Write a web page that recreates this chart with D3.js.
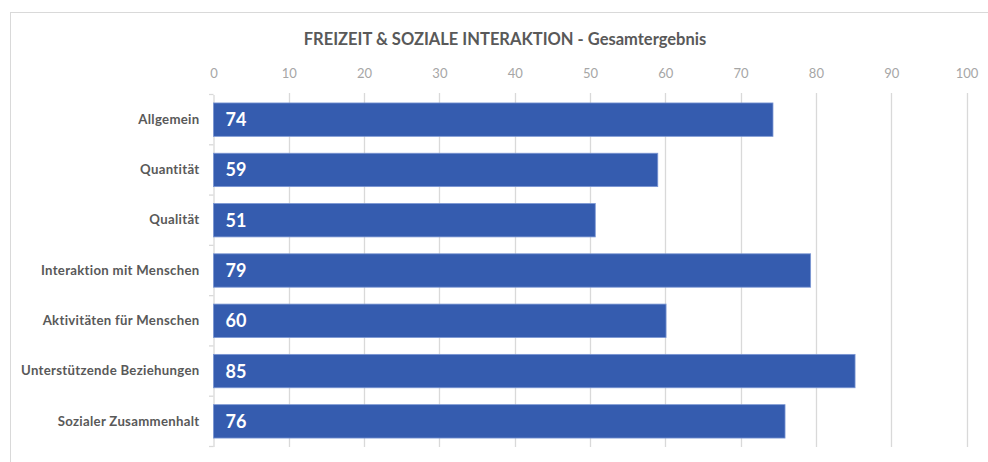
<!DOCTYPE html>
<html>
<head>
<meta charset="utf-8">
<script src="https://cdn.jsdelivr.net/npm/d3@7"></script>
<style>
  body { margin: 0; background: #fff; }
  svg { display: block; font-family: Lato, "Open Sans", sans-serif; }
</style>
</head>
<body>
<script>
// Chart data
var categories = ["Allgemein", "Quantität", "Qualität", "Interaktion mit Menschen",
  "Aktivitäten für Menschen", "Unterstützende Beziehungen", "Sozialer Zusammenhalt"];
var values = [74.3, 59.0, 50.7, 79.3, 60.1, 85.2, 75.9];
var xTicks = [0, 10, 20, 30, 40, 50, 60, 70, 80, 90, 100];
var title = "FREIZEIT & SOZIALE INTERAKTION - Gesamtergebnis";

var svgWidth = 988;
var svgHeight = 462;

var svg = d3.select("body")
  .append("svg")
  .attr("width", svgWidth)
  .attr("height", svgHeight);

// outer frame (runs off the right and bottom edge)
svg.append("rect")
  .attr("x", 10.5)
  .attr("y", 12.5)
  .attr("width", 1000)
  .attr("height", 500)
  .attr("fill", "none")
  .attr("stroke", "#d9d9d9");

var xScale = d3.scaleLinear()
  .domain([0, 100])
  .range([213.5, 966.5]);

var yScale = d3.scaleBand()
  .domain(categories)
  .range([94.5, 446.5])
  .paddingInner(0.336)
  .paddingOuter(0.168);

// title
svg.append("text")
  .attr("x", 505)
  .attr("y", 45)
  .attr("text-anchor", "middle")
  .attr("font-size", "16.5px")
  .attr("font-weight", "bold")
  .attr("fill", "#595959")
  .text(title);

// vertical gridlines
svg.append("g")
  .selectAll("line")
  .data(xTicks.slice(1))
  .enter()
  .append("line")
  .attr("x1", d => Math.round(xScale(d)) + 0.5)
  .attr("x2", d => Math.round(xScale(d)) + 0.5)
  .attr("y1", 93)
  .attr("y2", 447)
  .attr("stroke", "#d9d9d9")
  .attr("stroke-width", 1.3);

// top tick labels
var topAxis = d3.axisTop(xScale)
  .tickValues(xTicks)
  .tickSize(0)
  .tickPadding(0);

var topG = svg.append("g")
  .attr("transform", "translate(0, 78)")
  .call(topAxis);
topG.select(".domain").remove();
topG.selectAll("text")
  .attr("font-family", "Lato, 'Open Sans', sans-serif")
  .attr("font-size", "13px")
  .attr("fill", "#a6a6a6");

// left category axis
var leftAxis = d3.axisLeft(yScale)
  .tickSize(0)
  .tickPadding(14);

var leftG = svg.append("g")
  .attr("transform", "translate(" + 213.5 + ", 0)")
  .call(leftAxis);
leftG.select(".domain")
  .attr("stroke", "#d9d9d9")
  .attr("stroke-width", 1.3);
leftG.selectAll("text")
  .attr("font-family", "Lato, 'Open Sans', sans-serif")
  .attr("font-size", "13.2px")
  .attr("letter-spacing", "0.3px")
  .attr("font-weight", "bold")
  .attr("fill", "#595959");

// small tick marks between categories
var step = yScale.step();
var boundaries = categories.map((c, i) => yScale(categories[0]) - step * yScale.paddingOuter() + i * step)
  .concat([446.5]);
svg.append("g")
  .selectAll("line")
  .data(boundaries)
  .enter()
  .append("line")
  .attr("x1", 209)
  .attr("x2", 213.5)
  .attr("y1", d => d)
  .attr("y2", d => d)
  .attr("stroke", "#d9d9d9")
  .attr("stroke-width", 1.3);

// bars
var bars = svg.append("g")
  .selectAll("g")
  .data(categories)
  .enter()
  .append("g");

bars.append("rect")
  .attr("x", xScale(0))
  .attr("y", d => yScale(d))
  .attr("width", (d, i) => xScale(values[i]) - xScale(0))
  .attr("height", yScale.bandwidth())
  .attr("fill", "#355caf")
  .attr("stroke", "#7b96d3")
  .attr("stroke-width", 0.8);

bars.append("text")
  .attr("x", xScale(0) + 12)
  .attr("y", d => yScale(d) + yScale.bandwidth() / 2)
  .attr("dy", "0.36em")
  .attr("font-size", "18px")
  .attr("font-weight", "bold")
  .attr("fill", "#ffffff")
  .text((d, i) => Math.round(values[i]));
</script>
</body>
</html>
